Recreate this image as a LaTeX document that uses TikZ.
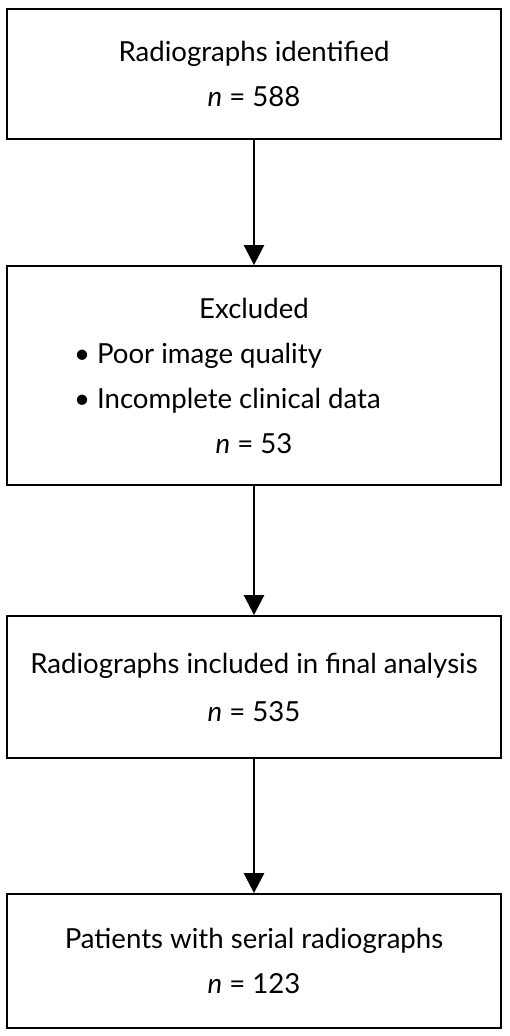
\documentclass[tikz,border=0pt]{standalone}
\usepackage{fontspec}
\setmainfont{Lato}
\usetikzlibrary{arrows.meta}

\begin{document}
\begin{tikzpicture}[x=1pt,y=-1pt,>={Triangle[black,length=20pt,width=20pt]},every edge/.style={draw=black,line width=2.6pt},
        stage/.style={draw, rectangle, line width=1.8pt, minimum width=494pt, align=center, font=\fontsize{27.6}{45}\selectfont}]
        \useasboundingbox (0,0) rectangle (510,1036);

        \node[stage, minimum height=130pt] (R) at (254, 74) {Radiographs identified\\\textit{n} = 588};

        \node[stage, minimum height=219pt] (X) at (254, 375.5) {Excluded\\
                \makebox[360pt][l]{\textbullet\ Poor image quality}\\
                \makebox[360pt][l]{\textbullet\ Incomplete clinical data}\\
                \textit{n} = 53};

        \node[stage, minimum height=142pt] (F) at (254, 687) {Radiographs included in final analysis\\[3pt]\textit{n} = 535};

        \node[stage, minimum height=134pt] (S) at (254, 961) {Patients with serial radiographs\\\textit{n} = 123};


        \path [->](R) edge (X);
        \path [->](X) edge (F);
        \path [->](F) edge (S);

    \end{tikzpicture}
\end{document}
